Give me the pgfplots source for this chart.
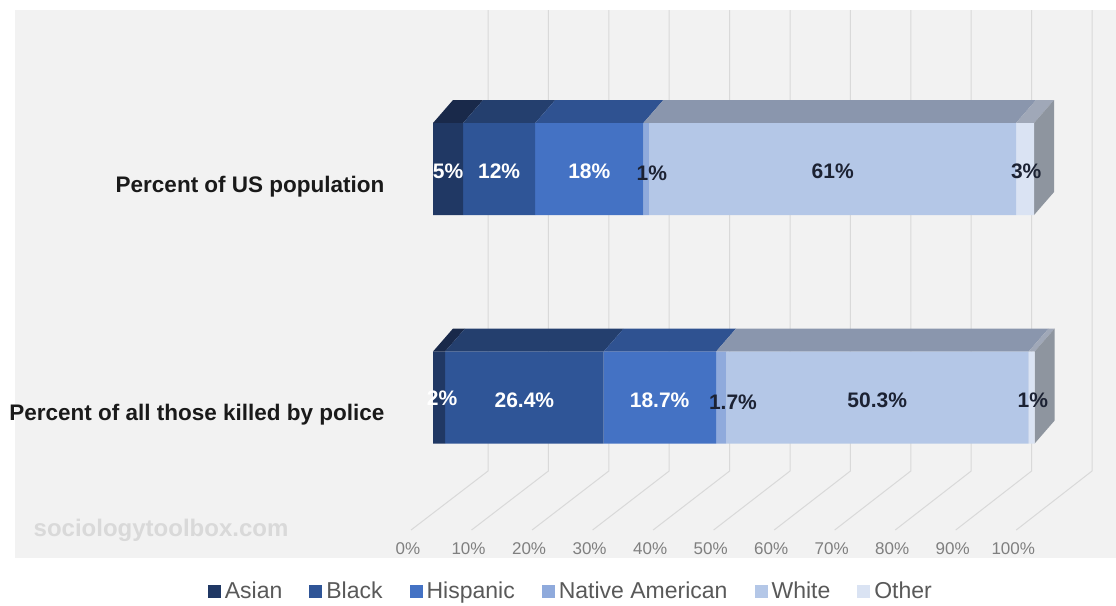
\documentclass[border=0pt]{standalone}
\usepackage{fontspec}
\setmainfont{Liberation Sans}
\usepackage{pgfplots}
\pgfplotsset{compat=1.18}
\definecolor{asian}{HTML}{203864}
\definecolor{black1}{HTML}{2F5597}
\definecolor{hisp}{HTML}{4472C4}
\definecolor{natam}{HTML}{8FAADC}
\definecolor{white1}{HTML}{B4C7E7}
\definecolor{other}{HTML}{DAE3F3}
\definecolor{asianT}{HTML}{19294A}
\definecolor{blackT}{HTML}{243F6E}
\definecolor{hispT}{HTML}{2F5291}
\definecolor{greyT}{HTML}{8A96AD}
\definecolor{otherT}{HTML}{A0A8B8}
\definecolor{sideC}{HTML}{8E959F}
\definecolor{panel}{HTML}{F2F2F2}
\definecolor{gridc}{HTML}{D9D9D9}
\definecolor{tickc}{HTML}{7F7F7F}
\definecolor{legc}{HTML}{595959}
\definecolor{darklab}{HTML}{1C2233}
\definecolor{catc}{HTML}{1A1A1A}
\newcommand\fs[1]{\fontsize{#1}{#1}\selectfont}
\tikzset{dl/.style={font=\bfseries\fs{21}}, cl/.style={font=\bfseries\fs{22.5}, text=catc, anchor=east}}
\pgfplotsset{base/.style={scale only axis, width=1116pt, height=605pt,
  xmin=-72.05, xmax=113.64, ymin=0, ymax=605, y dir=reverse,
  hide axis, clip=false, at={(0,0)}, anchor=south west}}
\begin{document}
\begin{tikzpicture}
% ---------- background, walls, 3D faces ----------
\begin{axis}[base, no markers]
\fill[white] (axis cs:-72.05,0) rectangle (axis cs:113.64,605);
\fill[panel] (axis cs:-69.55,10) rectangle (axis cs:113.64,558);
% back-wall gridlines and floor lines
\pgfplotsinvokeforeach{0,...,10}{
  \draw[gridc, line width=1pt] (axis cs:{9.15+10.05*#1},10) -- (axis cs:{9.15+10.05*#1},471)
     -- (axis cs:{-3.66+10.07*#1},530);
  \node[font=\fs{17}, text=tickc] at (axis cs:{-4.16+10.07*#1},549) {\pgfmathparse{int(10*#1)}\pgfmathresult\%};
}
% top faces, US population (front top y=123, back y=100)
\addplot[fill=asianT, draw=none] coordinates {(0,123) (5,123) (8.33,100) (3.33,100)};
\addplot[fill=blackT, draw=none] coordinates {(5,123) (17,123) (20.33,100) (8.33,100)};
\addplot[fill=hispT, draw=none] coordinates {(17,123) (35,123) (38.33,100) (20.33,100)};
\addplot[fill=greyT, draw=none] coordinates {(35,123) (97,123) (100.33,100) (38.33,100)};
\addplot[fill=otherT, draw=none] coordinates {(97,123) (100,123) (103.33,100) (100.33,100)};
\addplot[fill=sideC, draw=none] coordinates {(100,123) (103.33,100) (103.33,192) (100,215)};
% top faces, killed by police (front top y=351.5, back y=328.5)
\addplot[fill=asianT, draw=none] coordinates {(0,351.5) (2,351.5) (5.33,328.5) (3.33,328.5)};
\addplot[fill=blackT, draw=none] coordinates {(2,351.5) (28.4,351.5) (31.73,328.5) (5.33,328.5)};
\addplot[fill=hispT, draw=none] coordinates {(28.4,351.5) (47.1,351.5) (50.43,328.5) (31.73,328.5)};
\addplot[fill=greyT, draw=none] coordinates {(47.1,351.5) (99.1,351.5) (102.43,328.5) (50.43,328.5)};
\addplot[fill=otherT, draw=none] coordinates {(99.1,351.5) (100.1,351.5) (103.43,328.5) (102.43,328.5)};
\addplot[fill=sideC, draw=none] coordinates {(100.1,351.5) (103.43,328.5) (103.43,420.5) (100.1,443.5)};
% watermark
\node[font=\bfseries\fs{24}, text=gridc] at (axis cs:-45.26,530) {sociologytoolbox.com};
\end{axis}
% ---------- front faces of the bars ----------
\begin{axis}[base, xbar stacked, bar width=92,
  legend columns=6,
  legend image code/.code={\draw[#1,/tikz/.cd,draw=none] (0pt,-6.5pt) rectangle (13pt,6.5pt);},
  legend style={at={(0.5124,0.0231)}, anchor=center, draw=none, fill=none,
    font=\fs{23}, text=legc, nodes={inner xsep=4pt, inner ysep=2pt},
    /tikz/every even column/.append style={column sep=23pt}}]
\addplot[fill=asian, draw=none] coordinates {(5,169) (2,397.5)};
\addplot[fill=black1, draw=none] coordinates {(12,169) (26.4,397.5)};
\addplot[fill=hisp, draw=none] coordinates {(18,169) (18.7,397.5)};
\addplot[fill=natam, draw=none] coordinates {(1,169) (1.7,397.5)};
\addplot[fill=white1, draw=none] coordinates {(61,169) (50.3,397.5)};
\addplot[fill=other, draw=none] coordinates {(3,169) (1,397.5)};
\legend{Asian, Black, Hispanic, Native American, White, Other}
\end{axis}
% ---------- labels on top ----------
\begin{axis}[base]
% category labels
\node[cl] at (axis cs:-7.49,187) {Percent of US population};
\node[cl] at (axis cs:-7.49,415) {Percent of all those killed by police};
% data labels
\node[dl,text=white] at (axis cs:2.5,171) {5\%};
\node[dl,text=white] at (axis cs:11,171) {12\%};
\node[dl,text=white] at (axis cs:26,171) {18\%};
\node[dl,text=darklab] at (axis cs:36.4,173) {1\%};
\node[dl,text=darklab] at (axis cs:66.5,171) {61\%};
\node[dl,text=darklab] at (axis cs:98.7,171) {3\%};
\node[dl,text=white] at (axis cs:1.5,398) {2\%};
\node[dl,text=white] at (axis cs:15.2,400) {26.4\%};
\node[dl,text=white] at (axis cs:37.7,400) {18.7\%};
\node[dl,text=darklab] at (axis cs:49.9,402) {1.7\%};
\node[dl,text=darklab] at (axis cs:73.9,400) {50.3\%};
\node[dl,text=darklab] at (axis cs:99.8,400) {1\%};
\end{axis}
\end{tikzpicture}
\end{document}
